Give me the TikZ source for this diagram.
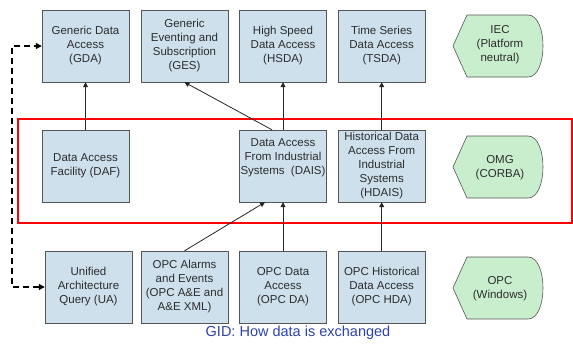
\documentclass[tikz,border=0pt]{standalone}
\usepackage{fontspec}
\setmainfont{Liberation Sans}
\usetikzlibrary{arrows.meta}

\definecolor{cajaazul}{RGB}{205,224,236}
\definecolor{hexverde}{RGB}{200,238,205}
\definecolor{bordegris}{RGB}{85,85,85}
\definecolor{textogris}{RGB}{45,45,45}
\definecolor{tituloazul}{RGB}{45,65,175}

\begin{document}
\begin{tikzpicture}[x=1pt, y=-1pt]

	\tikzstyle{caja}=[draw=bordegris, fill=cajaazul, text=textogris, minimum width=87pt, minimum height=72pt, inner sep=1pt, align=center, font=\fontsize{11.5}{14}\selectfont]
	\tikzstyle{hexa}=[draw=bordegris, fill=hexverde, line width=0.6pt]
	\tikzstyle{etiqueta}=[text=textogris, align=center, font=\fontsize{11.5}{14}\selectfont]
	\tikzstyle{flecha}=[-{Triangle[length=5pt, width=5pt]}, draw=black!85, line width=0.8pt]
	\tikzstyle{enlace}=[{Triangle[length=6pt, width=6pt]}-{Triangle[length=6pt, width=6pt]}, dash pattern=on 6pt off 4pt, line width=1.3pt]
	\tikzstyle{marco}=[draw=red, line width=2.2pt]

	\useasboundingbox (0,0) rectangle (573,343);

	\coordinate (gda) at (85.5, 46); % IEC
	\coordinate (ges) at (184.5, 46); % IEC
	\coordinate (hsda) at (283, 46); % IEC
	\coordinate (tsda) at (381.7, 46); % IEC
	\coordinate (daf) at (85.5, 166); % OMG
	\coordinate (dais) at (283, 166); % OMG
	\coordinate (hdais) at (381.7, 166); % OMG
	\coordinate (ua) at (88.5, 287); % OPC
	\coordinate (ae) at (184.5, 287); % OPC
	\coordinate (da) at (283, 287); % OPC
	\coordinate (hda) at (381.7, 287); % OPC

	% marco rojo (CORBA)
	\draw[marco] (18, 119) rectangle (572, 223);

	\node[caja] (gda) at (gda) {Generic Data\\Access\\(GDA)}; % IEC
	\node[caja] (ges) at (ges) {Generic\\Eventing and\\Subscription\\(GES)}; % IEC
	\node[caja] (hsda) at (hsda) {High Speed\\Data Access\\(HSDA)}; % IEC
	\node[caja] (tsda) at (tsda) {Time Series\\Data Access\\(TSDA)}; % IEC
	\node[caja] (daf) at (daf) {Data Access\\Facility (DAF)}; % OMG
	\node[caja] (dais) at (dais) {Data Access\\From Industrial\\Systems\ \ (DAIS)\\[5pt]}; % OMG
	\node[caja] (hdais) at (hdais) {Historical Data\\Access From\\Industrial\\Systems\\(HDAIS)}; % OMG
	\node[caja] (ua) at (ua) {Unified\\Architecture\\Query (UA)}; % OPC
	\node[caja] (ae) at (ae) {OPC Alarms\\and Events\\(OPC A\&E and\\A\&E XML)}; % OPC
	\node[caja] (da) at (da) {OPC Data\\Access\\(OPC DA)}; % OPC
	\node[caja] (hda) at (hda) {OPC Historical\\Data Access\\(OPC HDA)}; % OPC

	% plataformas
	\draw[hexa] (453, 46) -- (467, 15) -- (528, 15) .. controls (548, 15) and (548, 77) .. (528, 77) -- (467, 77) -- cycle;
	\draw[hexa] (453, 167) -- (467, 136) -- (528, 136) .. controls (548, 136) and (548, 198) .. (528, 198) -- (467, 198) -- cycle;
	\draw[hexa] (453, 288) -- (467, 257) -- (528, 257) .. controls (548, 257) and (548, 319) .. (528, 319) -- (467, 319) -- cycle;
	\node[etiqueta] (iec) at (500, 45) {IEC\\(Platform\\neutral)};
	\node[etiqueta] (omg) at (500, 168) {OMG\\(CORBA)};
	\node[etiqueta] (opc) at (500, 289) {OPC\\(Windows)};

	\draw[flecha] (daf) -- (gda);
	\draw[flecha] ([xshift=-11pt]dais.north) -- (ges.south);
	\draw[flecha] (dais) -- (hsda);
	\draw[flecha] (hdais) -- (tsda);
	\draw[flecha] (ae.north) -- ([xshift=-18pt]dais.south);
	\draw[flecha] (da) -- (dais);
	\draw[flecha] (hda) -- (hdais);

	\coordinate (giro) at (12, 287);
	\draw[enlace] (ua.west) -- (giro) |- (gda.west);

	\node[text=tituloazul, font=\fontsize{14.5}{16}\selectfont] (titulo) at (298, 333) {GID: How data is exchanged};
\end{tikzpicture}
\end{document}
